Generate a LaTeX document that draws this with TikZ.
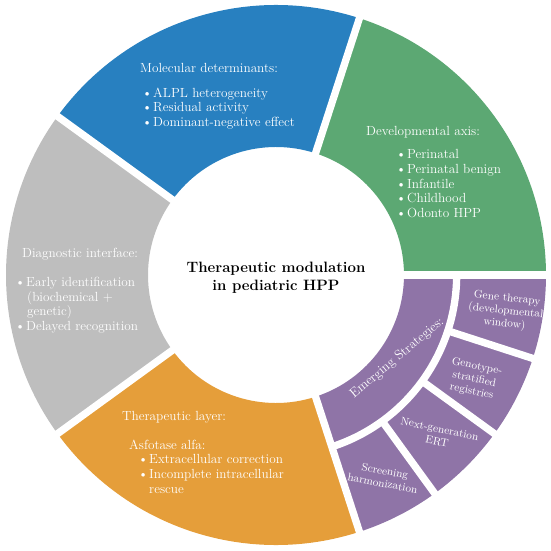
\documentclass[tikz,border=0pt]{standalone}
\usepackage{tikz}
\usetikzlibrary{positioning}

\definecolor{molblue}{RGB}{40,128,192}
\definecolor{devgreen}{RGB}{92,168,115}
\definecolor{diagray}{RGB}{190,190,190}
\definecolor{theraorange}{RGB}{229,158,58}
\definecolor{emergpurple}{RGB}{143,116,167}
\newcommand{\bul}{\makebox[0.33cm][l]{\textbullet}}

\begin{document}
\begin{tikzpicture}[
  every node/.style={inner sep=0pt, text=white, align=left, font=\fontsize{11.3}{12.6}\selectfont},
  gap/.style={white, line width=0.22cm},
  sub/.style={align=center, font=\fontsize{9.4}{10.8}\selectfont}
]
\useasboundingbox (-8.28,-8.28) rectangle (8.22,8.25);
% ring sectors, inner radius 3.84, outer 8.1
\fill[devgreen] (0:3.84) arc[start angle=0, end angle=72, radius=3.84] -- (72:8.1) arc[start angle=72, end angle=0, radius=8.1] -- cycle;
\fill[molblue] (72:3.84) arc[start angle=72, end angle=144, radius=3.84] -- (144:8.1) arc[start angle=144, end angle=72, radius=8.1] -- cycle;
\fill[diagray] (144:3.84) arc[start angle=144, end angle=216, radius=3.84] -- (216:8.1) arc[start angle=216, end angle=144, radius=8.1] -- cycle;
\fill[theraorange] (216:3.84) arc[start angle=216, end angle=288, radius=3.84] -- (288:8.1) arc[start angle=288, end angle=216, radius=8.1] -- cycle;
\fill[emergpurple] (288:3.84) arc[start angle=288, end angle=360, radius=3.84] -- (360:8.1) arc[start angle=360, end angle=288, radius=8.1] -- cycle;
% white separators
\draw[gap] (0:3.6) -- (0:8.3);
\draw[gap] (72:3.6) -- (72:8.3);
\draw[gap] (144:3.6) -- (144:8.3);
\draw[gap] (216:3.6) -- (216:8.3);
\draw[gap] (288:3.6) -- (288:8.3);
\draw[gap] (-72:5.42) arc[start angle=-72, end angle=0, radius=5.42];
\draw[gap] (-18:5.42) -- (-18:8.3);
\draw[gap] (-36:5.42) -- (-36:8.3);
\draw[gap] (-54:5.42) -- (-54:8.3);

\node[text=black, align=center, font=\fontsize{12.8}{16}\selectfont\bfseries] (title) at (0,-0.08) {Therapeutic modulation\\in pediatric HPP};

\node[anchor=north west] (molec) at (-4.08,6.36) {Molecular determinants:\\[0.3cm]
  \hspace*{0.06cm}\bul ALPL heterogeneity\\
  \hspace*{0.06cm}\bul Residual activity\\
  \hspace*{0.06cm}\bul Dominant-negative effect};
\node[anchor=north west] (devel) at (2.70,4.47) {Developmental axis:\\[0.25cm]
  \hspace*{0.9cm}\bul Perinatal\\
  \hspace*{0.9cm}\bul Perinatal benign\\
  \hspace*{0.9cm}\bul Infantile\\
  \hspace*{0.9cm}\bul Childhood\\
  \hspace*{0.9cm}\bul Odonto HPP};
\node[anchor=north west] (diagn) at (-7.83,0.81) {\hspace*{0.21cm}Diagnostic interface:\\[0.42cm]
  \bul Early identification\\
  \hspace*{0.36cm}(biochemical +\\
  \hspace*{0.36cm}genetic)\\
  \bul Delayed recognition};
\node[anchor=north west] (thera) at (-4.62,-4.08) {Therapeutic layer:\\[0.42cm]
  \hspace*{0.21cm}Asfotase alfa:\\
  \hspace*{0.48cm}\bul Extracellular correction\\
  \hspace*{0.48cm}\bul Incomplete intracellular\\
  \hspace*{0.81cm}rescue};

% emerging strategies band and boxes
\node[rotate=40] (emerg) at (-34.5:4.41) {Emerging Strategies:};
\node[sub, rotate=-6] (gene) at (-9:6.98) {Gene therapy\\(developmental\\window)};
\node[sub, rotate=-12] (genotype) at (-27.7:6.72) {Genotype-\\stratified\\registries};
\node[sub, rotate=-12] (nextgen) at (-44.6:6.84) {Next-generation\\ERT};
\node[sub, rotate=-11] (screen) at (-61.9:6.87) {Screening\\harmonization};
\end{tikzpicture}
\end{document}
